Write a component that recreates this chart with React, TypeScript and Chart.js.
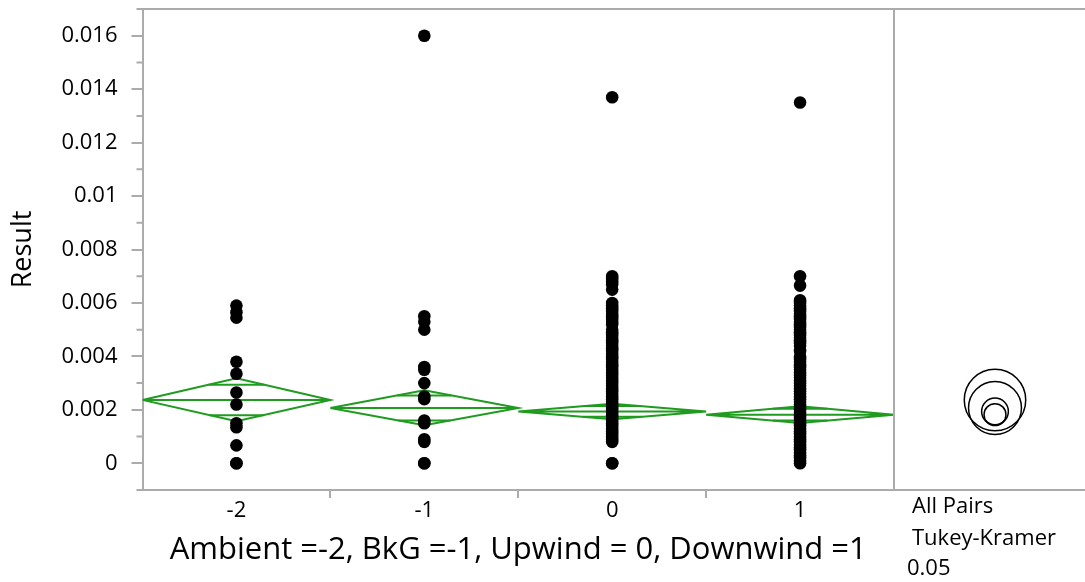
import React, { useEffect, useRef } from 'react';
import { Chart, registerables } from 'chart.js';

Chart.register(...registerables);

// ---------- data ----------
const categories = ['-2', '-1', '0', '1'];
const groupPositions = [-2, -1, 0, 1];

const ambientValues = [0.0059, 0.00565, 0.00545, 0.0038, 0.00335, 0.00265, 0.0022, 0.0015, 0.00135, 0.00067, 0, 0];
const bkgValues = [0.016, 0.0055, 0.0053, 0.005, 0.0036, 0.0035, 0.003, 0.0025, 0.0024, 0.0016, 0.0015, 0.0009, 0.0008, 0, 0];
const upwindValues = [
  0.0137, 0.007, 0.0069, 0.0068, 0.0067, 0.0065, 0.006, 0.0059, 0.0058, 0.0057, 0.0056, 0.0055, 0.0054,
  0.0053, 0.0052, 0.005, 0.0049, 0.0048, 0.0047, 0.0046, 0.0045, 0.0044, 0.0043, 0.0042, 0.0041, 0.004,
  0.0039, 0.0038, 0.0037, 0.0036, 0.0035, 0.0034, 0.0033, 0.0032, 0.0031, 0.003, 0.0029, 0.0028, 0.0027,
  0.0026, 0.0025, 0.0024, 0.0023, 0.0022, 0.0021, 0.002, 0.0019, 0.0018, 0.0017, 0.0016, 0.0015, 0.0014,
  0.0013, 0.0012, 0.0011, 0.001, 0.0009, 0.0008, 0, 0,
];
const downwindValues = [
  0.0135, 0.007, 0.00665, 0.0061, 0.006, 0.0059, 0.0058, 0.0057, 0.0056, 0.0055, 0.0054, 0.0053, 0.0052,
  0.0051, 0.005, 0.0049, 0.0048, 0.0047, 0.0046, 0.0045, 0.0044, 0.0042, 0.004, 0.0039, 0.0038, 0.0037,
  0.0036, 0.0035, 0.0034, 0.0033, 0.0032, 0.0031, 0.003, 0.0029, 0.0028, 0.0027, 0.0026, 0.0025, 0.0024,
  0.0023, 0.0022, 0.0021, 0.002, 0.0019, 0.0018, 0.0017, 0.0016, 0.0015, 0.0014, 0.0013, 0.0012, 0.0011,
  0.001, 0.0009, 0.0008, 0.0007, 0.0006, 0.0005, 0.0004, 0.0003, 0.0002, 0.0001, 0,
];
const groupValues = [ambientValues, bkgValues, upwindValues, downwindValues];

const groupMeans = [0.00237, 0.00207, 0.00194, 0.00182];
const ciUpper = [0.00318, 0.00273, 0.00223, 0.00213];
const ciLower = [0.00157, 0.00142, 0.00165, 0.00151];
const overlapUpper = [0.00294, 0.00254, 0.00214, 0.00204];
const overlapLower = [0.0018, 0.0016, 0.00174, 0.0016];
const circleRadii = [0.00115, 0.00099, 0.0005, 0.00041];

const yMajorTicks = [0, 0.002, 0.004, 0.006, 0.008, 0.01, 0.012, 0.014, 0.016];
const yTickLabels = ['0', '0.002', '0.004', '0.006', '0.008', '0.01', '0.012', '0.014', '0.016'];
const yMinorTicks = [-0.001, 0.001, 0.003, 0.005, 0.007, 0.009, 0.011, 0.013, 0.015, 0.017];

const rightPanelLines = ['All Pairs', 'Tukey-Kramer', '0.05'];
const xTitle = 'Ambient =-2, BkG =-1, Upwind = 0, Downwind =1';
const yTitle = 'Result';

// ---------- styles ----------
const FONT = "'Open Sans', 'Noto Sans', sans-serif";
const AXIS_GRAY = '#ababab';
const GREEN = '#1f9b1f';

const jmpPanelPlugin = {
  id: 'jmpPanel',
  afterDraw(chart: any) {
    const { ctx, chartArea: a, scales } = chart;
    const y = scales.y;
    const W = chart.width;
    ctx.save();
    ctx.strokeStyle = AXIS_GRAY;
    ctx.lineWidth = 2;
    ctx.beginPath();
    ctx.moveTo(a.left, a.top);
    ctx.lineTo(W, a.top);
    ctx.moveTo(a.right, a.bottom);
    ctx.lineTo(W, a.bottom);
    ctx.moveTo(a.right, a.top);
    ctx.lineTo(a.right, a.bottom);
    yMinorTicks.forEach((v) => {
      const py = y.getPixelForValue(v);
      ctx.moveTo(a.left - 6, py);
      ctx.lineTo(a.left, py);
    });
    ctx.stroke();

    // comparison circles
    const cx = a.right + 101;
    ctx.strokeStyle = '#000';
    ctx.lineWidth = 1.5;
    groupMeans.forEach((m, i) => {
      const cy = y.getPixelForValue(m);
      const r = Math.abs(y.getPixelForValue(m + circleRadii[i]) - cy);
      ctx.beginPath();
      ctx.arc(cx, cy, r, 0, Math.PI * 2);
      ctx.stroke();
    });

    // right panel captions
    ctx.fillStyle = '#000';
    ctx.font = `22px ${FONT}`;
    ctx.textAlign = 'left';
    ctx.textBaseline = 'alphabetic';
    ctx.fillText(rightPanelLines[0], a.right + 18, a.bottom + 23);
    ctx.fillText(rightPanelLines[1], a.right + 18, a.bottom + 55);
    ctx.fillText(rightPanelLines[2], a.right + 13, a.bottom + 85);
    ctx.restore();
  },
};

export default function App() {
  const canvasRef = useRef<HTMLCanvasElement | null>(null);

  useEffect(() => {
    document.body.style.margin = '0';
    const canvas = canvasRef.current;
    if (!canvas) return;

    const datasets: any[] = [];
    groupPositions.forEach((gx, i) => {
      datasets.push({
        label: `points ${categories[i]}`,
        data: groupValues[i].map((v) => ({ x: gx, y: v })),
        backgroundColor: '#000',
        borderWidth: 0,
        pointRadius: 6.3,
        showLine: false,
        order: 0,
      });
    });
    groupPositions.forEach((gx, i) => {
      const m = groupMeans[i];
      datasets.push({
        label: `diamond ${categories[i]}`,
        data: [
          { x: gx - 0.5, y: m },
          { x: gx, y: ciUpper[i] },
          { x: gx + 0.5, y: m },
          { x: gx, y: ciLower[i] },
          { x: gx - 0.5, y: m },
          { x: gx + 0.5, y: m },
        ],
        showLine: true,
        borderColor: GREEN,
        borderWidth: 2,
        pointRadius: 0,
        fill: false,
        tension: 0,
        order: 1,
      });
      const wHi = 0.5 * (1 - (overlapUpper[i] - m) / (ciUpper[i] - m));
      const wLo = 0.5 * (1 - (m - overlapLower[i]) / (m - ciLower[i]));
      datasets.push({
        label: `overlap hi ${categories[i]}`,
        data: [
          { x: gx - wHi, y: overlapUpper[i] },
          { x: gx + wHi, y: overlapUpper[i] },
        ],
        showLine: true,
        borderColor: GREEN,
        borderWidth: 2,
        pointRadius: 0,
        order: 1,
      });
      datasets.push({
        label: `overlap lo ${categories[i]}`,
        data: [
          { x: gx - wLo, y: overlapLower[i] },
          { x: gx + wLo, y: overlapLower[i] },
        ],
        showLine: true,
        borderColor: GREEN,
        borderWidth: 2,
        pointRadius: 0,
        order: 1,
      });
    });

    const chart = new Chart(canvas, {
      type: 'scatter',
      data: { datasets },
      options: {
        animation: false,
        responsive: false,
        maintainAspectRatio: false,
        layout: { padding: { top: 9, right: 191, left: 0, bottom: 0 } },
        plugins: { legend: { display: false }, tooltip: { enabled: false } },
        scales: {
          x: {
            type: 'linear',
            min: -2.5,
            max: 1.5,
            afterBuildTicks: (scale: any) => {
              scale.ticks = groupPositions.map((v) => ({ value: v }));
            },
            afterFit: (scale: any) => {
              scale.height = 92;
              scale.paddingLeft = 0;
              scale.paddingRight = 0;
            },
            ticks: {
              autoSkip: false,
              maxRotation: 0,
              padding: 0,
              color: '#000',
              font: { family: FONT, size: 22 },
              callback: (_v: any, i: number) => categories[i],
            },
            grid: {
              offset: true,
              drawOnChartArea: false,
              drawTicks: true,
              tickLength: 8,
              lineWidth: 2,
              color: (ctx: any) =>
                ctx.index !== undefined && ctx.index >= 1 && ctx.index <= 3 ? AXIS_GRAY : 'rgba(0,0,0,0)',
            },
            border: { display: true, color: AXIS_GRAY, width: 2 },
            title: {
              display: true,
              text: xTitle,
              align: 'center',
              color: '#000',
              font: { family: FONT, size: 31 },
              padding: { top: 0, bottom: 13 },
            },
          },
          y: {
            type: 'linear',
            min: -0.001,
            max: 0.017,
            afterBuildTicks: (scale: any) => {
              scale.ticks = yMajorTicks.map((v) => ({ value: v }));
            },
            afterFit: (scale: any) => {
              scale.width = 142.5;
              scale.paddingTop = 0;
              scale.paddingBottom = 0;
            },
            ticks: {
              autoSkip: false,
              padding: 14,
              color: '#000',
              font: { family: FONT, size: 22 },
              callback: (_v: any, i: number) => yTickLabels[i],
            },
            grid: {
              drawOnChartArea: false,
              drawTicks: true,
              tickLength: 11,
              lineWidth: 2,
              color: AXIS_GRAY,
            },
            border: { display: true, color: AXIS_GRAY, width: 2 },
            title: {
              display: true,
              text: yTitle,
              color: '#000',
              font: { family: FONT, size: 27 },
              padding: { top: 7, bottom: 0 },
            },
          },
        },
      },
      plugins: [jmpPanelPlugin],
    });

    return () => chart.destroy();
  }, []);

  return (
    <div style={{ width: 1085, height: 582 }}>
      <canvas ref={canvasRef} width={1085} height={582} style={{ display: 'block' }} />
    </div>
  );
}
